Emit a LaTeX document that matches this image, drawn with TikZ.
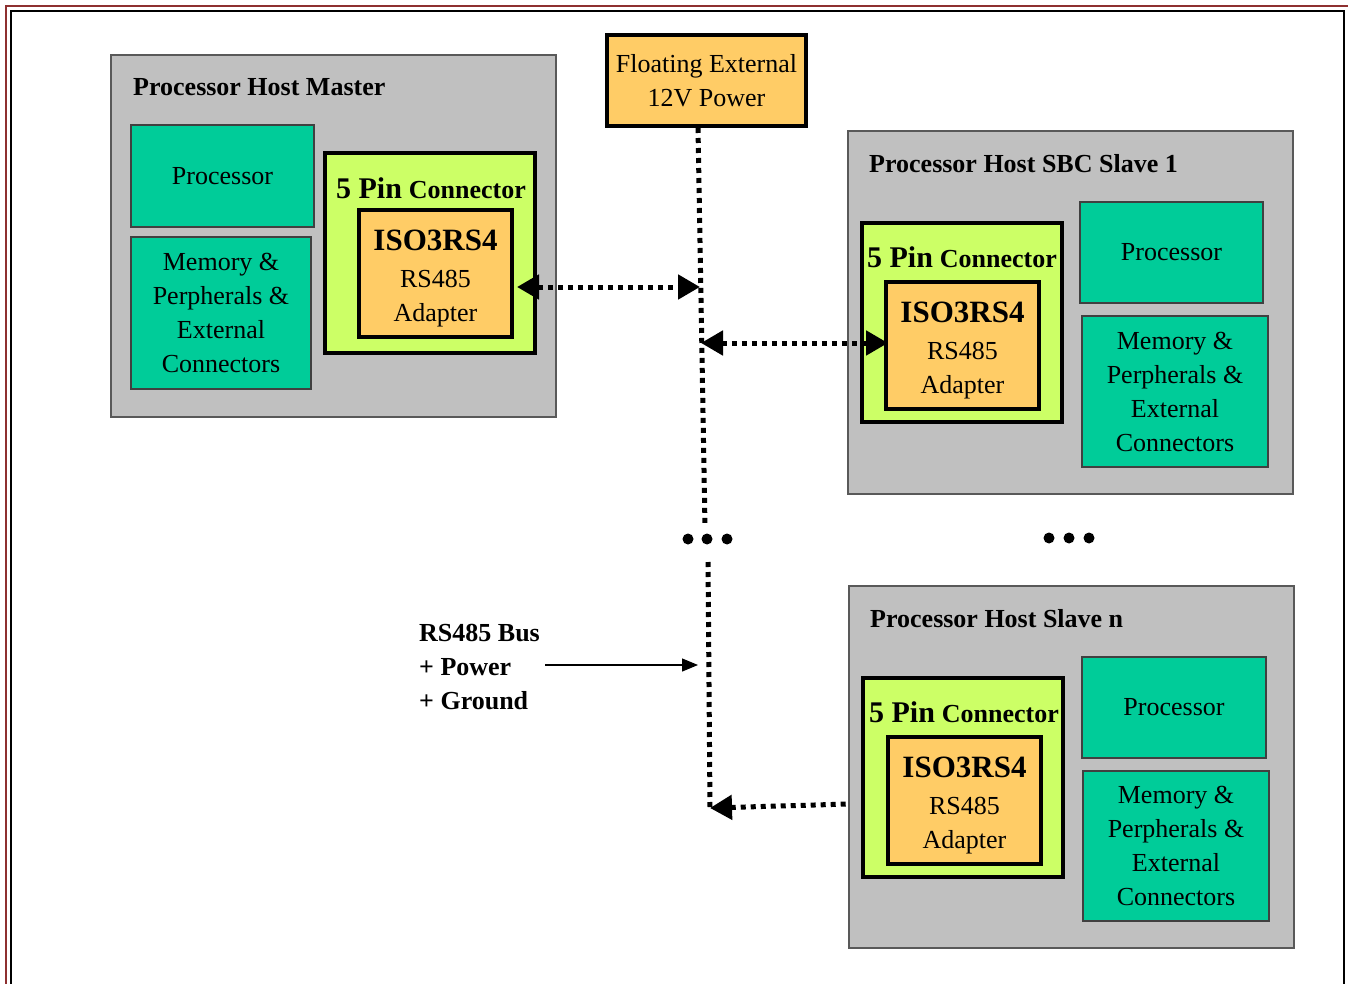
\documentclass[tikz,border=0pt]{standalone}
\usepackage{fontspec}
\setmainfont{Liberation Serif}
\usetikzlibrary{arrows.meta}
\definecolor{hostGray}{HTML}{C0C0C0}
\definecolor{cpuTeal}{HTML}{00CC99}
\definecolor{connGreen}{HTML}{CCFF66}
\definecolor{adaptOrange}{HTML}{FFCC66}
\definecolor{frameRed}{HTML}{8E3030}
\newcommand{\bodyfont}{\fontsize{26}{34}\selectfont}
\newcommand{\titlefont}{\fontsize{26}{34}\selectfont\bfseries}
\tikzset{
  boxbase/.style={anchor=north west, inner sep=0pt, outer sep=0pt, align=center, font=\bodyfont},
  hostbox/.style={boxbase, draw=black!65, line width=1.6pt, fill=hostGray},
  tealbox/.style={boxbase, draw=black!75, line width=1.3pt, fill=cpuTeal},
  connbox/.style={boxbase, draw=black, line width=4pt, fill=connGreen},
  adaptbox/.style={boxbase, draw=black, line width=4pt, fill=adaptOrange},
  powerbox/.style={boxbase, draw=black, line width=4pt, fill=adaptOrange},
  hosttitle/.style={anchor=west, inner sep=0pt, font=\titlefont},
  conntitle/.style={anchor=center, inner sep=0pt},
  bus/.style={line width=5pt, dash pattern=on 5pt off 5pt},
  busdot/.style={circle, fill=black, inner sep=0pt, minimum size=11pt}
}
\newcommand{\adapttext}{\rule{0pt}{30pt}{\fontsize{31}{35}\selectfont\bfseries ISO3RS4}\\[3pt]RS485\\Adapter}
\newcommand{\conntext}{{\fontsize{30}{34}\selectfont\bfseries 5 Pin}\hspace{7pt}{\fontsize{26}{34}\selectfont\bfseries Connector}}
\newcommand{\memtext}{Memory \&\\Perpherals \&\\External\\Connectors}
\begin{document}
\begin{tikzpicture}[x=1pt,y=-1pt]
\useasboundingbox[fill=white] (0,0) rectangle (1348,984);
% frame
\draw[frameRed, line width=2pt] (6,984) -- (6,6) -- (1348,6);
\draw[black, line width=2pt] (11,984) -- (11,11) -- (1344,11) -- (1344,984);

% ---------- Master ----------
\node[hostbox, minimum width=445pt, minimum height=362pt] (master) at (111,55) {};
\node[hosttitle] (mtitle) at (133,87) {Processor Host Master};
\node[tealbox, minimum width=183pt, minimum height=102pt] (mproc) at (131,125) {Processor};
\node[tealbox, minimum width=180pt, minimum height=152pt] (mmem) at (131,237) {\memtext};
\node[connbox, minimum width=210pt, minimum height=200pt] (mconn) at (325,153) {};
\node[conntitle] (mconnt) at (431,188) {\conntext};
\node[adaptbox, minimum width=153pt, minimum height=127pt] (madapt) at (359,210) {\adapttext};

% ---------- Power ----------
\node[powerbox, minimum width=199pt, minimum height=91pt] (power) at (607,35) {Floating External\\12V Power};

% ---------- Slave 1 ----------
\node[hostbox, minimum width=445pt, minimum height=363pt] (slave1) at (848,131) {};
\node[hosttitle] (s1title) at (869,164) {Processor Host SBC Slave 1};
\node[connbox, minimum width=200pt, minimum height=199pt] (s1conn) at (862,223) {};
\node[conntitle] (s1connt) at (962,257) {\conntext};
\node[adaptbox, minimum width=153pt, minimum height=127pt] (s1adapt) at (886,282) {\adapttext};
\node[tealbox, minimum width=183pt, minimum height=101pt] (s1proc) at (1080,202) {Processor};
\node[tealbox, minimum width=186pt, minimum height=151pt] (s1mem) at (1082,316) {\memtext};

% ---------- Slave n ----------
\node[hostbox, minimum width=445pt, minimum height=362pt] (slaven) at (849,586) {};
\node[hosttitle] (sntitle) at (870,619) {Processor Host Slave n};
\node[connbox, minimum width=200pt, minimum height=199pt] (snconn) at (863,678) {};
\node[conntitle] (snconnt) at (964,712) {\conntext};
\node[adaptbox, minimum width=153pt, minimum height=127pt] (snadapt) at (888,737) {\adapttext};
\node[tealbox, minimum width=184pt, minimum height=101pt] (snproc) at (1082,657) {Processor};
\node[tealbox, minimum width=186pt, minimum height=150pt] (snmem) at (1083,771) {\memtext};

% ---------- Bus ----------
\coordinate (busTop) at (698,128);
\coordinate (busA) at (700,287);
\coordinate (busB) at (701,343);
\coordinate (busEnd1) at (705,527);
\coordinate (busStart2) at (708,562);
\coordinate (busD) at (710,808);
\draw[bus] (busTop) -- (busEnd1);
\draw[bus] (busStart2) -- (busD);
\node[busdot] (d1) at (688,539) {};
\node[busdot] (d2) at (707,539) {};
\node[busdot] (d3) at (727,539) {};
\node[busdot] (e1) at (1049,538) {};
\node[busdot] (e2) at (1069,538) {};
\node[busdot] (e3) at (1089,538) {};

% arrows to bus
\coordinate (mport) at (517,287);
\coordinate (s1port) at (888,343);
\coordinate (snport) at (849,804);
\draw[bus, {Triangle[length=22pt,width=24pt]}-{Triangle[length=22pt,width=24pt]}] (mport) -- (busA);
\draw[bus, {Triangle[length=22pt,width=24pt]}-{Triangle[length=22pt,width=24pt]}] (busB) -- (s1port);
\draw[bus, {Triangle[length=22pt,width=24pt]}-] (busD) -- (snport);

% label
\node[anchor=north west, inner sep=0pt, align=left, font=\fontsize{26}{34}\selectfont\bfseries] (buslabel) at (419,624) {RS485 Bus\\+ Power\\+ Ground};
\coordinate (labelTail) at (545,665);
\draw[line width=1.2pt, -{Triangle[length=16pt,width=13pt]}] (labelTail) -- (698,665);
\end{tikzpicture}
\end{document}
